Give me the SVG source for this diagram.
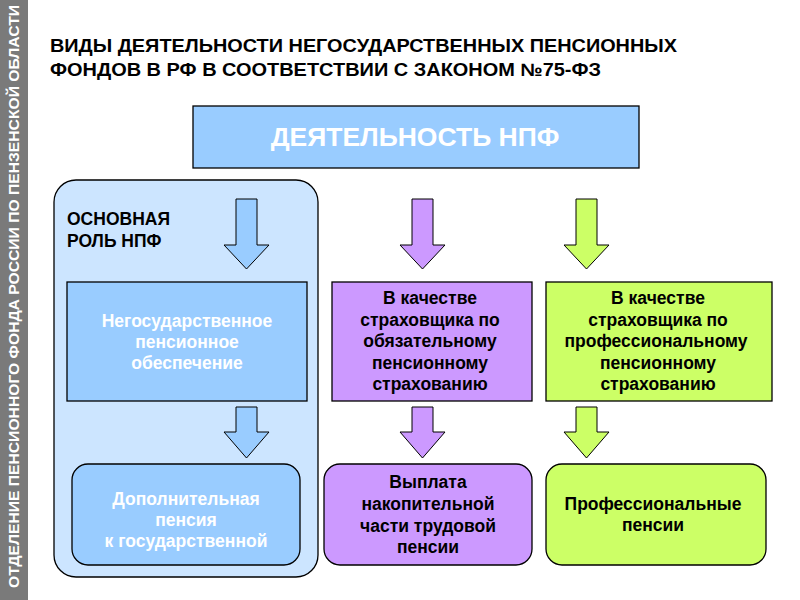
<svg xmlns="http://www.w3.org/2000/svg" width="800" height="600" viewBox="0 0 800 600">
<defs>
<style>
text{font-family:"Liberation Sans",Arial,sans-serif;font-weight:bold}
.w{fill:#ffffff}
.k{fill:#000000}
.c{text-anchor:middle}
.box{stroke:#000000;stroke-width:1.3}
.blue{fill:#99ccff}
.purple{fill:#cc99ff}
.green{fill:#ccff66}
.arr{stroke:#000000;stroke-width:1}
.t16{font-size:17.5px}
</style>
</defs>
<rect x="0" y="0" width="800" height="600" fill="#ffffff"/>
<g id="sidebar">
<rect x="0" y="0" width="28" height="600" fill="#7a7a7a"/>
<text class="w" transform="translate(19,588) rotate(-90)" font-size="14" textLength="583" lengthAdjust="spacingAndGlyphs">ОТДЕЛЕНИЕ ПЕНСИОННОГО ФОНДА РОССИИ ПО ПЕНЗЕНСКОЙ ОБЛАСТИ</text>
</g>
<g id="title">
<text class="k" x="50" y="52" font-size="18" textLength="627" lengthAdjust="spacingAndGlyphs">ВИДЫ ДЕЯТЕЛЬНОСТИ НЕГОСУДАРСТВЕННЫХ ПЕНСИОННЫХ</text>
<text class="k" x="50" y="76" font-size="18" textLength="551" lengthAdjust="spacingAndGlyphs">ФОНДОВ В РФ В СООТВЕТСТВИИ С ЗАКОНОМ №75-ФЗ</text>
</g>
<g id="npf">
<rect class="box blue" x="193" y="106" width="446" height="62"/>
<text class="w c" x="415" y="146" font-size="26.5">ДЕЯТЕЛЬНОСТЬ НПФ</text>
</g>
<g id="main-role">
<rect x="54" y="180" width="264" height="397" rx="22" fill="#cce5ff" stroke="#000000" stroke-width="1.3"/>
<text class="k" x="67" y="225" font-size="17.5">ОСНОВНАЯ</text>
<text class="k" x="67" y="247" font-size="17.5">РОЛЬ НПФ</text>
</g>
<g id="nps">
<rect class="box blue" x="67" y="282" width="240" height="119"/>
<text class="w c t16" x="187" y="327">Негосударственное</text>
<text class="w c t16" x="187" y="348">пенсионное</text>
<text class="w c t16" x="187" y="369">обеспечение</text>
</g>
<g id="ops">
<rect class="box purple" x="332" y="282" width="200" height="119"/>
<text class="k c t16" x="430" y="304">В качестве</text>
<text class="k c t16" x="430" y="326">страховщика по</text>
<text class="k c t16" x="430" y="347">обязательному</text>
<text class="k c t16" x="430" y="369">пенсионному</text>
<text class="k c t16" x="430" y="390">страхованию</text>
</g>
<g id="pps">
<rect class="box green" x="546" y="282" width="226" height="119"/>
<text class="k c t16" x="658" y="304">В качестве</text>
<text class="k c t16" x="658" y="326">страховщика по</text>
<text class="k c t16" x="656" y="347">профессиональному</text>
<text class="k c t16" x="658" y="369">пенсионному</text>
<text class="k c t16" x="658" y="390">страхованию</text>
</g>
<g id="dop">
<rect class="box blue" x="72" y="464" width="228" height="101" rx="16"/>
<text class="w c t16" x="186" y="505">Дополнительная</text>
<text class="w c t16" x="186" y="526">пенсия</text>
<text class="w c t16" x="186" y="547">к государственной</text>
</g>
<g id="vyplata">
<rect class="box purple" x="324" y="464" width="208" height="101" rx="16"/>
<text class="k c t16" x="428" y="488">Выплата</text>
<text class="k c t16" x="428" y="510">накопительной</text>
<text class="k c t16" x="428" y="532">части трудовой</text>
<text class="k c t16" x="428" y="553">пенсии</text>
</g>
<g id="prof">
<rect class="box green" x="546" y="464" width="220" height="101" rx="16"/>
<text class="k c t16" x="653" y="510">Профессиональные</text>
<text class="k c t16" x="653" y="531">пенсии</text>
</g>
<g id="connectors">
<path class="arr blue" d="M236 199H257V245H269L246.5 269L224 245H236Z"/>
<path class="arr blue" d="M236 407H257V432H269L246.5 458L224 432H236Z"/>
<path class="arr purple" d="M412 199H433V245H445L422.5 269L400 245H412Z"/>
<path class="arr purple" d="M412 407H433V432H445L422.5 458L400 432H412Z"/>
<path class="arr green" d="M576 199H597V245H609L586.5 269L564 245H576Z"/>
<path class="arr green" d="M576 407H597V432H609L586.5 458L564 432H576Z"/>
</g>
</svg>
